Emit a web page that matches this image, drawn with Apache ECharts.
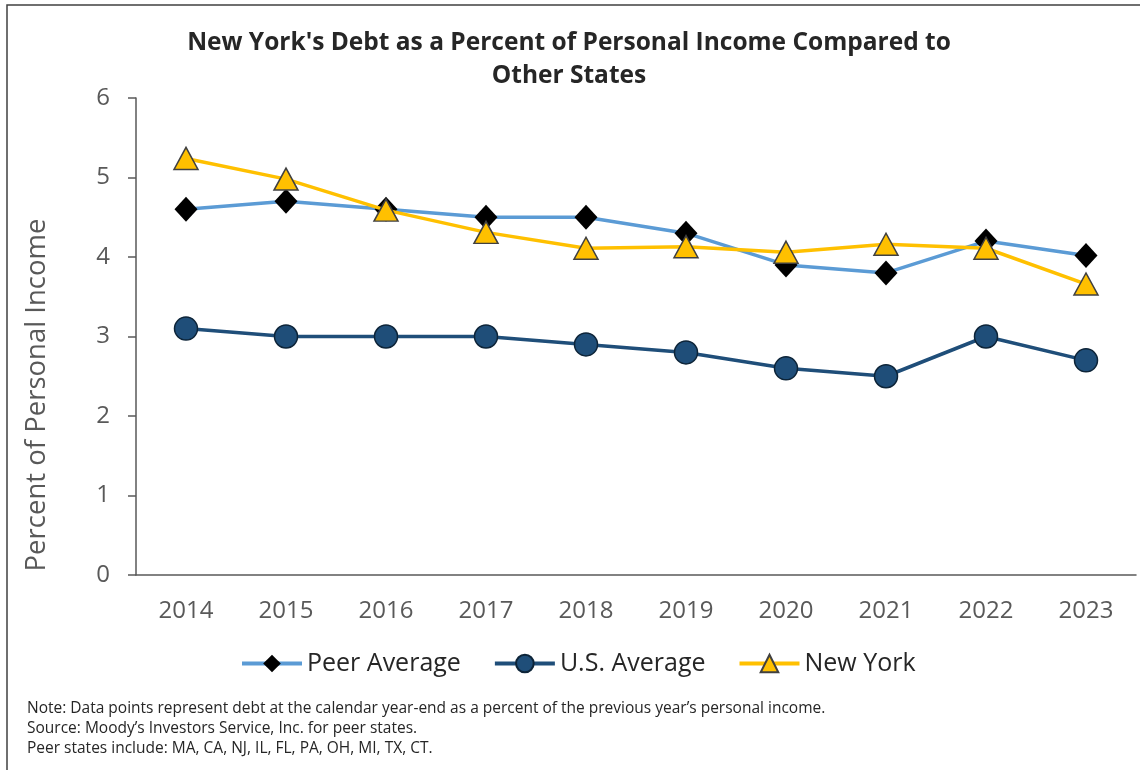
<!DOCTYPE html>
<html>
<head>
<meta charset="utf-8">
<style>
  html, body { margin: 0; padding: 0; background: #ffffff; }
  #chart { width: 1140px; height: 770px; }
</style>
<script src="https://cdn.jsdelivr.net/npm/echarts@6/dist/echarts.min.js"></script>
</head>
<body>
<div id="chart"></div>
<script>
// Debt as a percent of personal income, calendar year-end
const years = ['2014', '2015', '2016', '2017', '2018', '2019', '2020', '2021', '2022', '2023'];
const peerAverage = [4.6, 4.7, 4.6, 4.5, 4.5, 4.3, 3.9, 3.8, 4.2, 4.02];
const usAverage = [3.1, 3.0, 3.0, 3.0, 2.9, 2.8, 2.6, 2.5, 3.0, 2.7];
const newYork = [5.24, 4.98, 4.59, 4.31, 4.11, 4.13, 4.06, 4.16, 4.11, 3.66];
const yTicks = [0, 1, 2, 3, 4, 5, 6];

const titleLines = [
  "New York's Debt as a Percent of Personal Income Compared to",
  'Other States'
];
const notes = [
  'Note: Data points represent debt at the calendar year-end as a percent of the previous year\u2019s personal income.',
  'Source: Moody\u2019s Investors Service, Inc. for peer states.',
  'Peer states include: MA, CA, NJ, IL, FL, PA, OH, MI, TX, CT.'
];

const FONT = '"Open Sans", "Liberation Sans", sans-serif';
const chart = echarts.init(document.getElementById('chart'), null, { renderer: 'canvas' });

chart.setOption({
  backgroundColor: '#ffffff',
  animation: false,
  title: {
    text: titleLines.join('\n'),
    left: 564,
    top: 22,
    textAlign: 'center',
    textStyle: {
      fontFamily: FONT,
      fontSize: 24.5,
      fontWeight: 'bold',
      color: '#262626',
      lineHeight: 33
    }
  },
  grid: { left: 136, right: 4, top: 98, bottom: 195, containLabel: false },
  legend: {
    top: 646,
    left: 235,
    itemWidth: 60,
    itemHeight: 22,
    itemGap: 32,
    textStyle: { fontFamily: FONT, fontSize: 25, color: '#262626' },
    data: [
      { name: 'Peer Average', itemStyle: { color: '#000000' }, lineStyle: { width: 4 } },
      { name: 'U.S. Average', lineStyle: { width: 4 } },
      { name: 'New York', lineStyle: { width: 4 } }
    ]
  },
  xAxis: {
    type: 'category',
    data: years,
    boundaryGap: true,
    axisLine: { lineStyle: { color: '#595959', width: 1.5 } },
    axisTick: { show: false },
    axisLabel: { fontFamily: FONT, fontSize: 24, color: '#595959', margin: 24 }
  },
  yAxis: {
    type: 'value',
    min: yTicks[0],
    max: yTicks[yTicks.length - 1],
    interval: 1,
    splitLine: { show: false },
    axisLine: { show: true, lineStyle: { color: '#595959', width: 1.5 } },
    axisTick: { show: true, length: 8, lineStyle: { color: '#595959', width: 1.5 } },
    axisLabel: { fontFamily: FONT, fontSize: 24, color: '#595959', margin: 26 }
  },
  graphic: [
    {
      type: 'rect',
      shape: { x: 7, y: 5, width: 1200, height: 900 },
      style: { fill: 'none', stroke: '#404040', lineWidth: 1.5 },
      silent: true
    },
    {
      type: 'text',
      x: 37,
      y: 395,
      rotation: Math.PI / 2,
      style: {
        text: 'Percent of Personal Income',
        fontFamily: FONT,
        fontSize: 27.5,
        fill: '#595959',
        align: 'center',
        verticalAlign: 'middle'
      }
    },
    {
      type: 'text',
      x: 27,
      y: 699,
      style: {
        text: notes.join('\n'),
        fontFamily: FONT,
        fontSize: 15.5,
        lineHeight: 20,
        fill: '#262626'
      }
    }
  ],
  series: [
    {
      name: 'Peer Average',
      type: 'line',
      data: peerAverage,
      symbol: 'diamond',
      symbolSize: [23, 25],
      lineStyle: { color: '#5B9BD5', width: 3.5 },
      itemStyle: { color: '#000000', borderColor: '#000000', borderWidth: 0 },
      z: 2
    },
    {
      name: 'U.S. Average',
      type: 'line',
      data: usAverage,
      symbol: 'circle',
      symbolSize: 23,
      lineStyle: { color: '#1F4E79', width: 3.5 },
      itemStyle: { color: '#1F4E79', borderColor: '#0D2438', borderWidth: 1.5 },
      z: 3
    },
    {
      name: 'New York',
      type: 'line',
      data: newYork,
      symbol: 'triangle',
      symbolSize: [24, 22],
      lineStyle: { color: '#FFC000', width: 3.5 },
      itemStyle: { color: '#FFC000', borderColor: '#404040', borderWidth: 1.5 },
      z: 4
    }
  ]
});
</script>
</body>
</html>
